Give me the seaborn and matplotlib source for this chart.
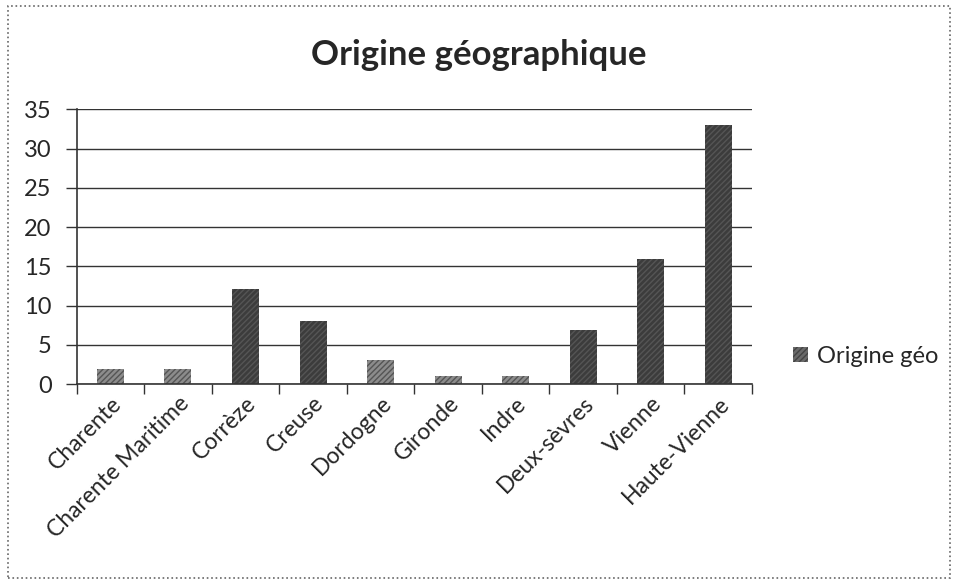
import matplotlib
matplotlib.use('Agg')
import matplotlib.pyplot as plt
import matplotlib.patches as mpatches
import pandas as pd
import seaborn as sn

departements = ['Charente', 'Charente Maritime', 'Corrèze', 'Creuse', 'Dordogne',
                'Gironde', 'Indre', 'Deux-sèvres', 'Vienne', 'Haute-Vienne']
origine_geo = [1.9, 2.0, 12.1, 8.1, 3.1, 1.0, 1.0, 6.9, 16.0, 33.0]
y_ticks = [0, 5, 10, 15, 20, 25, 30, 35]

# the scan shows the small bars lighter than the big ones
bar_colors = ['#8c8c8c', '#8c8c8c', '#3c3c3c', '#3c3c3c', '#8c8c8c',
              '#8c8c8c', '#8c8c8c', '#3c3c3c', '#3c3c3c', '#3c3c3c']

sn.set_style('white')
plt.rcParams['font.family'] = ['Lato', 'DejaVu Sans']
plt.rcParams['hatch.color'] = '#222222'

df = pd.DataFrame({'dep': departements, 'val': origine_geo})

fig = plt.figure(figsize=(9.58, 5.84), dpi=100)
ax = fig.add_axes([0.080, 0.342, 0.705, 0.471])

sn.barplot(data=df, x='dep', y='val', hue='dep', palette=bar_colors,
           legend=False, width=0.4, ax=ax, saturation=1)
for p in ax.patches:
    p.set_hatch('//////')
    p.set_edgecolor('#555555')
    p.set_linewidth(0)

ax.set_ylim(0, 35)
ax.set_xlim(-0.5, len(departements) - 0.5)
ax.set_yticks(y_ticks)
ax.yaxis.grid(True, color='#333333', linewidth=1.0)
ax.set_axisbelow(True)
ax.set_xlabel('')
ax.set_ylabel('')
for s in ['top', 'right']:
    ax.spines[s].set_visible(False)
ax.spines['left'].set_color('#333333')
ax.spines['bottom'].set_color('#333333')
ax.spines['left'].set_linewidth(1.2)
ax.spines['bottom'].set_linewidth(1.2)

# tick marks sit between categories like Excel
ax.set_xticks(range(len(departements)))
ax.set_xticklabels(departements, rotation=45, ha='right', rotation_mode='anchor', fontsize=16.5)
ax.tick_params(axis='x', length=0, pad=6)
ax.set_xticks([i - 0.5 for i in range(len(departements) + 1)], minor=True)
ax.tick_params(axis='x', which='minor', length=7, width=1, color='#333333', direction='out', bottom=True)
ax.tick_params(axis='y', labelsize=17, length=8, width=1, color='#333333', direction='out', left=True, pad=10)

fig.text(0.5, 0.905, 'Origine géographique', ha='center', va='center',
         fontsize=25, fontweight='bold')

handle = mpatches.Patch(facecolor='#6a6a6a', hatch='//////', edgecolor='#444444', linewidth=0,
                        label='Origine géo')
fig.legend(handles=[handle], loc='center left', bbox_to_anchor=(0.806, 0.39),
           frameon=False, fontsize=17, handlelength=0.6, handleheight=0.6, handletextpad=0.4)

fig.patches.append(mpatches.Rectangle((0.008, 0.01), 0.984, 0.98, transform=fig.transFigure,
                                      fill=False, edgecolor='#666666', linewidth=1.2, linestyle=':'))

fig.savefig('out.png', dpi=100)
